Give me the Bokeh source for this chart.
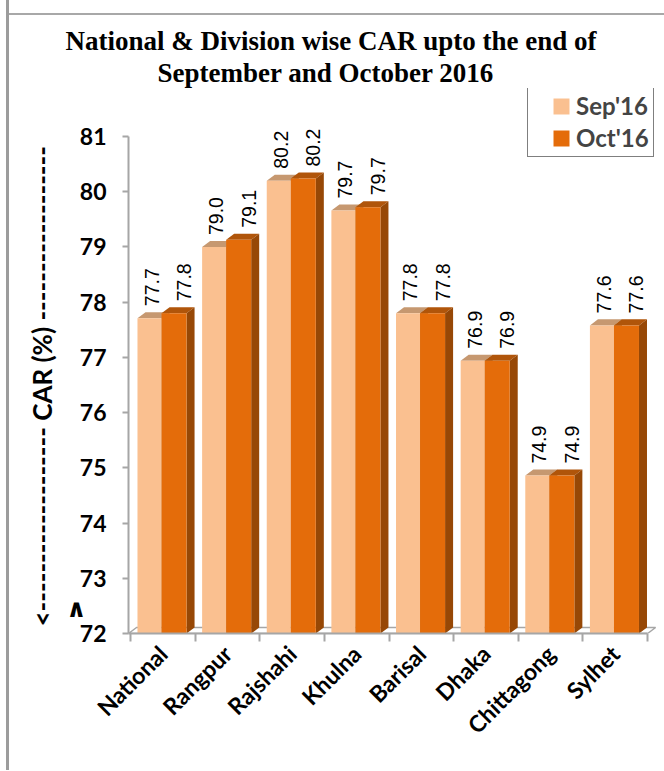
import math
from bokeh.plotting import figure
from bokeh.models import (Range1d, LinearAxis, FixedTicker, ColumnDataSource,
                          LabelSet, Legend, LegendItem, Title, InlineStyleSheet)
from bokeh.embed import file_html
from bokeh.resources import INLINE
from bokeh.core.properties import value

# ---------------- data ----------------
categories = ["National", "Rangpur", "Rajshahi", "Khulna", "Barisal", "Dhaka", "Chittagong", "Sylhet"]
sep_values = [77.71, 79.00, 80.20, 79.66, 77.80, 76.94, 74.86, 77.58]
oct_values = [77.80, 79.13, 80.24, 79.72, 77.80, 76.94, 74.86, 77.58]
series_names = ["Sep'16", "Oct'16"]
y_ticks = [72, 73, 74, 75, 76, 77, 78, 79, 80, 81]
title_line1 = "National & Division wise CAR upto the end of"
title_line2 = "September  and October 2016"
y_title = "CAR (%)"

# ---------------- style ----------------
SEP_FRONT, SEP_TOP, SEP_SIDE = "#FAC090", "#C69870", "#B98556"
OCT_FRONT, OCT_TOP, OCT_SIDE = "#E46C0A", "#B0550A", "#974806"
AXIS_GRAY = "#A6A6A6"
SANS = "Lato"

BASE = y_ticks[0]
SEP_L, SEP_R = 0.108, 0.48
OCT_L, OCT_R = 0.48, 0.867
DX, DY = 0.124, 0.109          # 3-D depth offsets
X0, X1 = -0.031, 8.2
Y1 = 81.87

n = len(categories)
idx = list(range(n))

p = figure(width=664, height=770, output_backend="svg", toolbar_location=None,
           x_range=Range1d(X0, X1), y_range=Range1d(BASE, Y1),
           min_border_left=128, min_border_right=4, min_border_top=88,
           min_border_bottom=137, background_fill_color="white",
           border_fill_color="white")
p.outline_line_color = None
p.grid.visible = False

# thin grey page frame lines (as in the source document)
p.stylesheets = [InlineStyleSheet(css="""
:host { position: relative; }
:host::before { content: ""; position: absolute; left: 6px; top: 0px; width: 3px;
                height: 100%; background: #9c9c9c; z-index: 10; pointer-events: none; }
:host::after { content: ""; position: absolute; left: 9px; right: 0px; top: 13px;
               height: 2px; background: #a8a8a8; z-index: 10; pointer-events: none; }
""")]

# ---------------- floor ----------------
p.patch([X0, n, n + DX, X0 + DX], [BASE, BASE, BASE + DY, BASE + DY],
        fill_color="white", line_color=AXIS_GRAY, line_width=1.5)

def tops(l, r, vals):
    xs = [[i + l, i + r, i + r + DX, i + l + DX] for i in idx]
    ys = [[v, v, v + DY, v + DY] for v in vals]
    return xs, ys

def sides(r, vals):
    xs = [[i + r, i + r + DX, i + r + DX, i + r] for i in idx]
    ys = [[BASE, BASE + DY, v + DY, v] for v in vals]
    return xs, ys

# Sep bars
xs, ys = tops(SEP_L, SEP_R, sep_values)
p.patches(xs, ys, fill_color=SEP_TOP, line_color=None)
xs, ys = sides(SEP_R, sep_values)
p.patches(xs, ys, fill_color=SEP_SIDE, line_color=None)
sep_front = p.vbar(x=[i + (SEP_L + SEP_R) / 2 for i in idx], width=SEP_R - SEP_L,
                   bottom=BASE, top=sep_values, fill_color=SEP_FRONT, line_color=None)
# Oct bars
xs, ys = tops(OCT_L, OCT_R, oct_values)
p.patches(xs, ys, fill_color=OCT_TOP, line_color=None)
xs, ys = sides(OCT_R, oct_values)
p.patches(xs, ys, fill_color=OCT_SIDE, line_color=None)
oct_front = p.vbar(x=[i + (OCT_L + OCT_R) / 2 for i in idx], width=OCT_R - OCT_L,
                   bottom=BASE, top=oct_values, fill_color=OCT_FRONT, line_color=None)

# ---------------- value labels ----------------
for vals, l, r, xoff in [(sep_values, SEP_L, SEP_R, 2), (oct_values, OCT_L, OCT_R, 10)]:
    src = ColumnDataSource(dict(x=[i + (l + r) / 2 for i in idx], y=vals,
                                t=[f"{v:.1f}" for v in vals]))
    p.add_layout(LabelSet(x="x", y="y", text="t", source=src, angle=math.pi / 2,
                          text_align="left", text_baseline="middle",
                          x_offset=xoff, y_offset=12,
                          text_font=value("Liberation Sans"), text_font_size="19.5px",
                          text_color="black"))

# ---------------- axes ----------------
xa = p.xaxis[0]
xa.ticker = FixedTicker(ticks=list(range(n + 1)))
xa.bounds = (X0, n)
xa.major_label_overrides = {i: "" for i in range(n + 1)}
xa.major_label_text_font_size = "1px"
xa.major_label_standoff = 0
xa.major_tick_out = 8
xa.major_tick_in = 0
xa.minor_tick_line_color = None
xa.axis_line_color = AXIS_GRAY
xa.axis_line_width = 2
xa.major_tick_line_color = AXIS_GRAY
xa.major_tick_line_width = 2

cat_axis = LinearAxis(ticker=FixedTicker(ticks=[i + 0.5 for i in idx]),
                      major_label_overrides={i + 0.5: c for i, c in enumerate(categories)},
                      major_label_orientation=math.pi / 4,
                      axis_line_color=None, major_tick_line_color=None,
                      major_tick_out=0, major_tick_in=0,
                      minor_tick_line_color=None, major_label_standoff=8,
                      major_label_text_font=SANS, major_label_text_font_style="bold",
                      major_label_text_font_size="23px", major_label_text_color="black")
p.add_layout(cat_axis, "below")

ya = p.yaxis[0]
ya.ticker = FixedTicker(ticks=y_ticks)
ya.bounds = (BASE, y_ticks[-1])
ya.major_label_text_font = SANS
ya.major_label_text_font_style = "bold"
ya.major_label_text_font_size = "23px"
ya.major_label_text_color = "black"
ya.major_label_standoff = 16
ya.axis_line_color = AXIS_GRAY
ya.axis_line_width = 2
ya.major_tick_line_color = AXIS_GRAY
ya.major_tick_line_width = 2
ya.major_tick_out = 6
ya.major_tick_in = 0
ya.minor_tick_line_color = None

# outer left axis: carries the dashed-arrow title and the small "^" mark
NBSP = "\u00a0"
outer = LinearAxis(ticker=FixedTicker(ticks=[72.45]),
                   major_label_overrides={72.45: "\u2227"},
                   axis_line_color=None, major_tick_line_color=None,
                   major_tick_out=0, major_tick_in=0, minor_tick_line_color=None,
                   major_label_standoff=-10, major_label_text_font="DejaVu Sans",
                   major_label_text_font_style="bold", major_label_text_font_size="25px",
                   major_label_text_color="black",
                   axis_label="<" + "-" * 19 + " " + y_title + " " + "-" * 18 + NBSP * 8,
                   axis_label_text_font=SANS, axis_label_text_font_style="bold",
                   axis_label_text_font_size="26px", axis_label_text_color="black",
                   axis_label_standoff=5)
p.add_layout(outer, "left")

# ---------------- legend ----------------
legend = Legend(items=[LegendItem(label=series_names[0], renderers=[sep_front]),
                       LegendItem(label=series_names[1], renderers=[oct_front])],
                location=(399, 476), padding=4, spacing=3, margin=0,
                title=NBSP, title_location="left", title_text_font_size="12px",
                title_standoff=5,
                glyph_width=20, glyph_height=20, label_standoff=5, label_width=70,
                label_text_font=SANS, label_text_font_style="bold",
                label_text_font_size="24px", label_text_line_height=1.0,
                border_line_color="black", border_line_width=1.5,
                background_fill_color="white", background_fill_alpha=1)
p.add_layout(legend)

# ---------------- titles ----------------
p.title.text = title_line1
p.title.align = "left"
p.title.offset = -63
p.title.text_font = "Liberation Serif"
p.title.text_font_size = "27px"
p.title.text_font_style = "bold"
p.title.text_color = "black"
p.title.text_line_height = 1.0
p.title.standoff = 0
t2 = Title(text=title_line2, align="left", offset=29, text_font="Liberation Serif",
           text_font_size="27px", text_font_style="bold", text_color="black",
           text_line_height=0.85, standoff=1)
p.add_layout(t2, "above")

open("out.html", "w").write(file_html(p, INLINE))
